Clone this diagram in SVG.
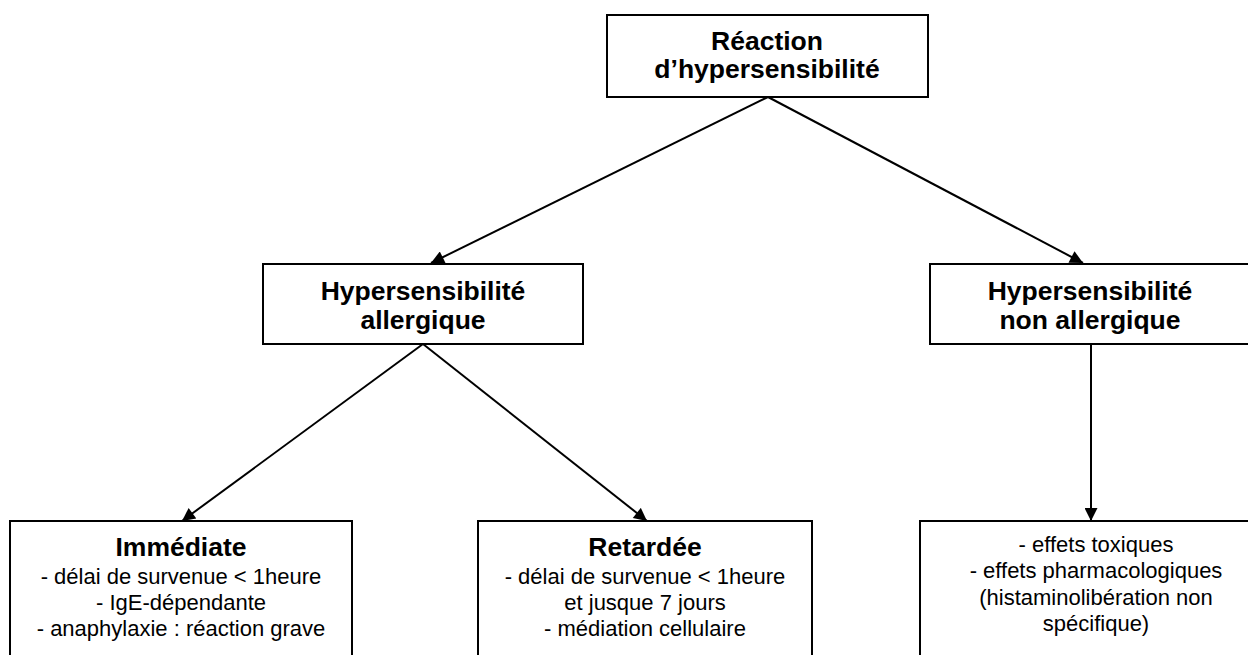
<svg xmlns="http://www.w3.org/2000/svg" width="1248" height="655" viewBox="0 0 1248 655">
<style>
.box{fill:#fff;stroke:#000;stroke-width:2}
.t{font-family:"Liberation Sans",Arial,sans-serif;text-anchor:middle;fill:#000}
.b{font-weight:bold;font-size:26.5px}
.r{font-size:22px}
.c{stroke:#000;stroke-width:2;fill:none}
</style>
<defs>
<marker id="ah" viewBox="0 0 10 10" refX="10" refY="5" markerWidth="15" markerHeight="13" markerUnits="userSpaceOnUse" orient="auto">
<path d="M0,0 L10,5 L0,10 z" fill="#000"/>
</marker>
</defs>
<rect width="1248" height="655" fill="#fff"/>
<g id="connectors">
<line class="c" x1="768" y1="97" x2="431" y2="263" marker-end="url(#ah)"/>
<line class="c" x1="768" y1="97" x2="1083" y2="263" marker-end="url(#ah)"/>
<line class="c" x1="423" y1="344" x2="182" y2="521" marker-end="url(#ah)"/>
<line class="c" x1="423" y1="344" x2="647" y2="521" marker-end="url(#ah)"/>
<line class="c" x1="1091" y1="344" x2="1091" y2="521" marker-end="url(#ah)"/>
</g>
<g id="n-root">
<rect class="box" x="607" y="15" width="321" height="82"/>
<text class="t b" x="767" y="50">Réaction</text>
<text class="t b" x="767" y="78">d’hypersensibilité</text>
</g>
<g id="n-allergique">
<rect class="box" x="263" y="264" width="320" height="80"/>
<text class="t b" x="423" y="300">Hypersensibilité</text>
<text class="t b" x="423" y="329">allergique</text>
</g>
<g id="n-nonallergique">
<rect class="box" x="930" y="264" width="322" height="80"/>
<text class="t b" x="1090" y="300">Hypersensibilité</text>
<text class="t b" x="1090" y="329">non allergique</text>
</g>
<g id="n-immediate">
<rect class="box" x="10" y="521" width="342" height="150"/>
<text class="t b" x="181" y="556">Immédiate</text>
<text class="t r" x="181" y="584">- délai de survenue &lt; 1heure</text>
<text class="t r" x="181" y="610">- IgE-dépendante</text>
<text class="t r" x="181" y="636">- anaphylaxie : réaction grave</text>
</g>
<g id="n-retardee">
<rect class="box" x="478" y="521" width="334" height="150"/>
<text class="t b" x="645" y="556">Retardée</text>
<text class="t r" x="645" y="584">- délai de survenue &lt; 1heure</text>
<text class="t r" x="645" y="610">et jusque 7 jours</text>
<text class="t r" x="645" y="636">- médiation cellulaire</text>
</g>
<g id="n-effets">
<rect class="box" x="920" y="521" width="352" height="150"/>
<text class="t r" x="1096" y="552">- effets toxiques</text>
<text class="t r" x="1096" y="578">- effets pharmacologiques</text>
<text class="t r" x="1096" y="605">(histaminolibération non</text>
<text class="t r" x="1096" y="631">spécifique)</text>
</g>
</svg>
